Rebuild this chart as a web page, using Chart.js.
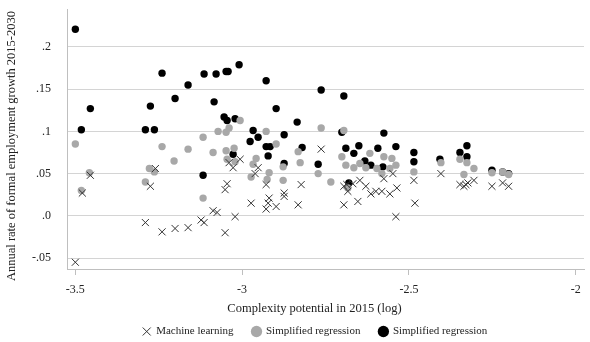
<!DOCTYPE html>
<html>
<head>
<meta charset="utf-8">
<script src="https://cdn.jsdelivr.net/npm/chart.js@4.4.0/dist/chart.umd.min.js"></script>
<style>
  html, body { margin: 0; padding: 0; background: #fff; }
  #wrap { width: 590px; height: 342px; }
</style>
</head>
<body>
<div id="wrap"><canvas id="myChart" width="590" height="342"></canvas></div>
<script>
// tick values and labels
const xTicks = [-3.5, -3, -2.5, -2];
const xTickLabels = ['-3.5', '-3', '-2.5', '-2'];
const yTicks = [-0.05, 0, 0.05, 0.1, 0.15, 0.2];
const yTickLabels = ['-.05', '.0', '.05', '.1', '.15', '.2'];

const seriesNames = ['Machine learning', 'Simplified regression', 'Simplified regression'];

// Machine learning (crosses)
const mlX = [-3.500, -3.479, -3.455, -3.290, -3.275, -3.260, -3.240, -3.201, -3.162, -3.123,
    -3.114, -3.087, -3.075, -3.051, -3.021, -3.051, -3.045, -3.027, -3.006, -3.039,
    -2.973, -2.952, -2.961, -2.928, -2.928, -2.922, -2.919, -2.898, -2.874, -2.874,
    -2.832, -2.823, -2.763, -2.695, -2.653, -2.695, -2.686, -2.683, -2.668, -2.647,
    -2.629, -2.614, -2.599, -2.581, -2.575, -2.557, -2.548, -2.536, -2.539, -2.485,
    -2.482, -2.404, -2.347, -2.335, -2.329, -2.323, -2.305, -2.251, -2.219, -2.201];
const mlY = [-0.055, 0.027, 0.048, -0.008, 0.035, 0.056, -0.019, -0.015, -0.014, -0.005,
    -0.008, 0.006, 0.004, -0.020, -0.001, 0.031, 0.038, 0.057, 0.067, 0.063,
    0.015, 0.057, 0.050, 0.037, 0.008, 0.015, 0.021, 0.011, 0.027, 0.023,
    0.013, 0.037, 0.079, 0.013, 0.017, 0.035, 0.037, 0.029, 0.038, 0.042,
    0.035, 0.026, 0.029, 0.029, 0.044, 0.026, 0.050, 0.033, -0.001, 0.042,
    0.015, 0.050, 0.037, 0.035, 0.037, 0.039, 0.042, 0.035, 0.039, 0.035];

// Simplified regression (grey circles)
const grayX = [-3.500, -3.482, -3.458, -3.290, -3.278, -3.263, -3.240, -3.204, -3.162, -3.117,
    -3.117, -3.087, -3.072, -3.048, -3.039, -3.048, -3.045, -3.024, -3.021, -3.006,
    -2.967, -2.958, -2.973, -2.928, -2.919, -2.925, -2.898, -2.877, -2.877, -2.832,
    -2.826, -2.772, -2.763, -2.734, -2.695, -2.701, -2.689, -2.683, -2.665, -2.647,
    -2.629, -2.617, -2.596, -2.581, -2.575, -2.557, -2.551, -2.539, -2.485, -2.404,
    -2.347, -2.335, -2.326, -2.305, -2.251, -2.219, -2.201];
const grayY = [0.085, 0.030, 0.051, 0.040, 0.056, 0.052, 0.082, 0.065, 0.079, 0.093,
    0.021, 0.075, 0.100, 0.099, 0.104, 0.077, 0.067, 0.080, 0.064, 0.113,
    0.061, 0.068, 0.046, 0.100, 0.051, 0.043, 0.085, 0.058, 0.042, 0.076,
    0.063, 0.050, 0.104, 0.040, 0.101, 0.070, 0.060, 0.033, 0.057, 0.062,
    0.057, 0.074, 0.056, 0.050, 0.070, 0.056, 0.068, 0.060, 0.052, 0.063,
    0.067, 0.049, 0.063, 0.056, 0.051, 0.052, 0.049];

// Simplified regression (black circles)
const blackX = [-3.500, -3.482, -3.455, -3.290, -3.275, -3.263, -3.240, -3.201, -3.162, -3.114,
    -3.084, -3.078, -3.048, -3.042, -3.009, -3.054, -3.045, -3.021, -3.027, -3.117,
    -2.967, -2.952, -2.976, -2.928, -2.928, -2.916, -2.922, -2.898, -2.874, -2.874,
    -2.835, -2.820, -2.763, -2.695, -2.701, -2.772, -2.689, -2.665, -2.650, -2.632,
    -2.614, -2.593, -2.575, -2.539, -2.578, -2.680, -2.485, -2.485, -2.407, -2.347,
    -2.326, -2.326, -2.251, -2.219, -2.201];
const blackY = [0.221, 0.102, 0.127, 0.102, 0.130, 0.102, 0.169, 0.139, 0.155, 0.168,
    0.135, 0.168, 0.171, 0.171, 0.179, 0.117, 0.113, 0.115, 0.073, 0.048,
    0.101, 0.093, 0.088, 0.160, 0.082, 0.082, 0.071, 0.127, 0.096, 0.062,
    0.111, 0.081, 0.149, 0.142, 0.099, 0.061, 0.080, 0.074, 0.083, 0.065,
    0.060, 0.080, 0.098, 0.082, 0.058, 0.039, 0.075, 0.064, 0.067, 0.075,
    0.083, 0.070, 0.054, 0.052, 0.050];

function toPoints(xs, ys) {
    return xs.map((x, i) => ({ x: x, y: ys[i] }));
}

const fontFam = "'Liberation Serif', 'Times New Roman', serif";
const gridGray = '#d4d4d4';

// shift an axis title a few px from where chart.js centres it
function nudgeTitle(scale, dx, dy) {
    if (scale._titlePatched) return;
    const origTitle = scale.drawTitle;
    scale.drawTitle = function () {
        this.ctx.save();
        this.ctx.translate(dx, dy);
        origTitle.call(this);
        this.ctx.restore();
    };
    scale._titlePatched = true;
}

// legend needs wide gaps between items but a short box,
// so squash its height and nudge it where the original sits
const legendNudge = {
    id: 'legendNudge',
    beforeLayout(chart) {
        const lg = chart.legend;
        if (lg && !lg._patched) {
            const origFit = lg.fit;
            lg.fit = function () {
                origFit.call(this);
                this.height = 25;
            };
            lg._patched = true;
        }
    },
    afterLayout(chart) {
        const lg = chart.legend;
        lg.top -= 10;
        lg.left += 21;
        lg.right += 21;

        nudgeTitle(chart.scales.y, 0, 7);
        nudgeTitle(chart.scales.x, -11, 0);
    }
};

const ctx = document.getElementById('myChart').getContext('2d');

const myChart = new Chart(ctx, {
    type: 'scatter',
    data: {
        datasets: [{
            label: seriesNames[0],
            data: toPoints(mlX, mlY),
            pointStyle: 'crossRot',
            pointRadius: 5,
            borderColor: '#333333',
            backgroundColor: '#333333',
            borderWidth: 1
        }, {
            label: seriesNames[1],
            data: toPoints(grayX, grayY),
            pointStyle: 'circle',
            pointRadius: 3.7,
            backgroundColor: '#a8a8a8',
            borderColor: '#a8a8a8',
            borderWidth: 0
        }, {
            label: seriesNames[2],
            data: toPoints(blackX, blackY),
            pointStyle: 'circle',
            pointRadius: 3.7,
            backgroundColor: '#000000',
            borderColor: '#000000',
            borderWidth: 0
        }]
    },
    options: {
        responsive: false,
        animation: false,
        layout: { padding: { top: 9, right: 6, left: 4, bottom: 0 } },
        plugins: {
            tooltip: { enabled: false },
            legend: {
                position: 'bottom',
                labels: {
                    usePointStyle: true,
                    boxWidth: 8,
                    boxHeight: 8,
                    padding: 19,
                    color: '#222',
                    font: { family: fontFam, size: 11 }
                }
            }
        },
        scales: {
            x: {
                type: 'linear',
                min: -3.525,
                max: -1.975,
                afterBuildTicks: (scale) => { scale.ticks = xTicks.map(v => ({ value: v })); },
                afterFit: (scale) => { scale.height = 48; },
                grid: { drawOnChartArea: false, drawTicks: true, tickLength: 6, color: '#bfbfbf' },
                border: { display: true, color: '#bfbfbf' },
                ticks: {
                    color: '#222',
                    padding: 8,
                    font: { family: fontFam, size: 12 },
                    callback: (v) => xTickLabels[xTicks.indexOf(v)]
                },
                title: {
                    display: true,
                    text: 'Complexity potential in 2015 (log)',
                    color: '#222',
                    font: { family: fontFam, size: 12.5 },
                    padding: { top: 0, bottom: 1 }
                }
            },
            y: {
                type: 'linear',
                min: -0.063,
                max: 0.245,
                afterBuildTicks: (scale) => { scale.ticks = yTicks.map(v => ({ value: v })); },
                afterFit: (scale) => {
                    scale.width = 63;
                    // the wide tick padding would otherwise push the plot down
                    scale.paddingTop = 0;
                    scale.paddingBottom = 0;
                },
                grid: { drawTicks: false, color: gridGray },
                border: { display: true, color: '#bfbfbf' },
                ticks: {
                    color: '#222',
                    padding: 16,
                    font: { family: fontFam, size: 12 },
                    callback: (v) => yTickLabels[yTicks.indexOf(v)]
                },
                title: {
                    display: true,
                    text: 'Annual rate of formal employment growth 2015-2030',
                    color: '#222',
                    font: { family: fontFam, size: 12.5 },
                    padding: { top: 0, bottom: 0 }
                }
            }
        }
    },
    plugins: [legendNudge]
});
</script>
</body>
</html>
